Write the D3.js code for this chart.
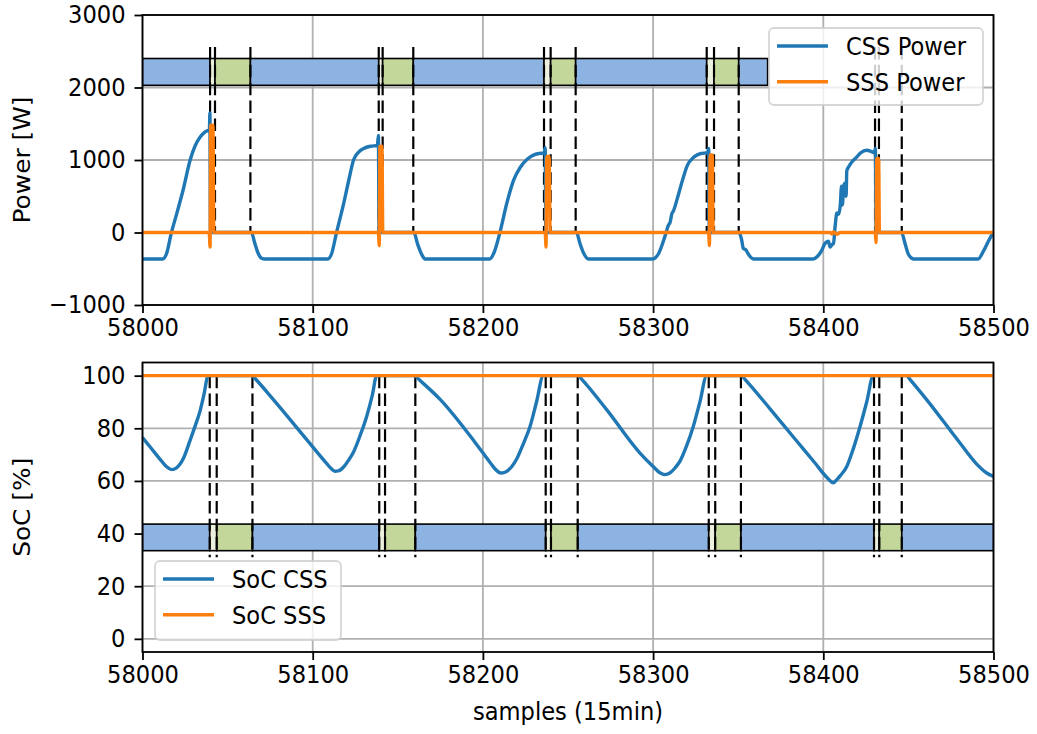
<!DOCTYPE html>
<html>
<head>
<meta charset="utf-8">
<script src="https://cdn.jsdelivr.net/npm/d3@7"></script>
<style>
  html, body { margin: 0; padding: 0; background: #ffffff; }
  svg { display: block; }
  text { font-family: "DejaVu Sans", sans-serif; fill: #000; }
</style>
</head>
<body>
<svg id="chart" width="1037" height="734"></svg>
<script>
// ---- Data (samples at 15 min resolution) ----
const sampleDomain = [58000, 58500];
const xTicks = [58000, 58100, 58200, 58300, 58400, 58500];
const powerTicks = [-1000, 0, 1000, 2000, 3000];
const socTicks = [0, 20, 40, 60, 80, 100];

// CSS power [W]
const cssPower = [
  [58000, -365], [58012, -365], [58014, -300], [58017, 0], [58020, 250], [58024, 600],
  [58028, 1000], [58031, 1200], [58034, 1320], [58037, 1390], [58039.3, 1420], [58039.6, 1650],
  [58039.9, 0], [58064, 0], [58066, -150], [58068, -290], [58070, -355], [58072, -365],
  [58109, -365], [58111, -300], [58114, 0], [58118, 380], [58121, 700], [58124, 1000],
  [58127, 1110], [58130, 1160], [58134, 1190], [58138, 1200], [58138.6, 1340], [58139, 0],
  [58159.5, 0], [58161.5, -150], [58164, -300], [58166, -365],
  [58204, -365], [58206.5, -280], [58210, 0], [58214, 400], [58218, 720], [58222, 900],
  [58226, 1010], [58230, 1070], [58233, 1090], [58236, 1095], [58236.6, 1170], [58237, 0],
  [58255, 0], [58257, -150], [58259.5, -300], [58262, -365],
  [58300, -365], [58303, -300], [58307, -50], [58309, 100], [58310, 140], [58311, 260],
  [58312, 300], [58314, 450], [58317, 700], [58320, 920], [58324, 1040], [58328, 1090],
  [58332, 1100], [58332.7, 1160], [58333, 0], [58350.5, 0], [58352, -100], [58353, -220],
  [58354.5, -240], [58356, -300], [58359, -365],
  [58394, -365], [58396.5, -330], [58399, -250], [58401, -150], [58403, -120], [58404, -200],
  [58405, -170], [58406, -150], [58407, 100], [58408, 270], [58409, 250], [58410, 380],
  [58410.7, 640], [58411.2, 380], [58412, 640], [58412.8, 680], [58413.4, 500], [58413.8, 850],
  [58415, 910], [58417, 980], [58419.6, 1040], [58422, 1100], [58425.5, 1135], [58428, 1120],
  [58430, 1100], [58430.6, 1160], [58431, 0], [58446, 0], [58448, -150], [58450, -300],
  [58453, -365], [58491, -365], [58494, -260], [58497, -120], [58500, 10]
];

// SSS power [W]
const sssPower = [
  [58000, 0], [58039.2, 0], [58039.7, -200], [58040.1, 1480], [58041.4, 1480], [58041.9, 0],
  [58138.6, 0], [58139.1, -180], [58139.5, 1190], [58140.7, 1190], [58141.2, 0],
  [58236.6, 0], [58237.1, -200], [58237.5, 1050], [58238.9, 1050], [58239.5, 0],
  [58332.6, 0], [58333.1, -180], [58333.5, 1070], [58334.8, 1070], [58335.3, 0],
  [58404, 0], [58405, -20], [58406, 10], [58408, -25], [58410, 0],
  [58430.5, 0], [58431, -140], [58431.4, 1020], [58432.5, 1020], [58433, 0], [58500, 0]
];

// State of charge [%]
const socCss = [
  [58000, 76.5], [58005, 72.5], [58010, 68.5], [58014, 65.5], [58017, 64.3], [58020, 65],
  [58024, 68.5], [58028, 75.5], [58031, 81], [58034, 87], [58036, 92.5], [58038.6, 100],
  [58064.5, 100], [58066, 99], [58076.9, 90.9], [58096.5, 75.7], [58108, 66.8], [58111, 64.6],
  [58113, 63.7], [58115, 63.8], [58118, 65.2], [58121, 67.8], [58124, 71], [58128, 77.5],
  [58131.7, 84.5], [58135, 92.5], [58137.6, 100],
  [58160, 100], [58162, 98.8], [58175, 90.9], [58195, 75], [58204, 67.2], [58208, 64],
  [58210.5, 63], [58213, 63.3], [58217, 65.5], [58220, 68.5], [58224, 74.5], [58227.7, 80.7],
  [58231.5, 90], [58235.5, 100],
  [58256.1, 100], [58258, 98.7], [58272.7, 87.1], [58292.3, 70.6], [58300, 65.5], [58304, 63.1],
  [58307, 62.4], [58310, 63.1], [58313, 65], [58315.8, 67.5], [58319.5, 73], [58323.6, 80.7],
  [58327.5, 90], [58331.5, 100],
  [58352, 100], [58354, 98.6], [58368.7, 87.4], [58382.4, 76.7], [58395, 66.9], [58402, 61.4],
  [58405.9, 59.3], [58408, 60.5], [58410, 62], [58413.8, 65.5], [58417.5, 72], [58421.6, 80.7],
  [58425.5, 90], [58429.4, 100],
  [58449, 100], [58451, 98.5], [58460.7, 90.9], [58480.3, 74.4], [58490, 66.5], [58496, 63],
  [58500, 61.7]
];
const socSss = [[58000, 100], [58500, 100]];

// Operating phases: [start, end, kind]
const powerPhases = [
  [58000, 58039.7, "idle"], [58039.7, 58042.6, "switch"], [58042.6, 58063.4, "full"],
  [58063.4, 58138.8, "idle"], [58138.8, 58141.1, "switch"], [58141.1, 58159.1, "full"],
  [58159.1, 58235.9, "idle"], [58235.9, 58239.8, "switch"], [58239.8, 58254.5, "full"],
  [58254.5, 58331.5, "idle"], [58331.5, 58335.8, "switch"], [58335.8, 58350.3, "full"],
  [58350.3, 58367.3, "idle"]
];
const powerMarkers = [58039.7, 58042.6, 58063.4, 58138.8, 58141.1, 58159.1, 58235.9, 58239.8,
  58254.5, 58331.5, 58335.8, 58350.3, 58430.4, 58432.7, 58446.1];

const socPhases = [
  [58000, 58039.5, "idle"], [58039.5, 58043.6, "switch"], [58043.6, 58064.6, "full"],
  [58064.6, 58139.1, "idle"], [58139.1, 58142.5, "switch"], [58142.5, 58160.3, "full"],
  [58160.3, 58236.9, "idle"], [58236.9, 58240.0, "switch"], [58240.0, 58255.7, "full"],
  [58255.7, 58332.7, "idle"], [58332.7, 58336.5, "switch"], [58336.5, 58351.6, "full"],
  [58351.6, 58429.8, "idle"], [58429.8, 58432.9, "switch"], [58432.9, 58446.1, "full"],
  [58446.1, 58500, "idle"]
];
const socMarkers = [58039.5, 58043.6, 58064.6, 58139.1, 58142.5, 58160.3, 58236.9, 58240.0,
  58255.7, 58332.7, 58336.5, 58351.6, 58429.8, 58432.9, 58446.1];

const powerBand = [2030, 2400];
const powerMarkerSpan = [0, 2560];
const socBand = [33.5, 43.6];
const socMarkerSpan = [31, 100];

// ---- Styling ----
const phaseColor = { idle: "#8db3e2", switch: "#ebf1de", full: "#c4d79b" };
const cssColor = "#1f77b4";
const sssColor = "#ff7f0e";
const fontSize = 22.6;
const textStretch = 1.1; // glyphs are drawn slightly taller than wide

const svg = d3.select("#chart");
const left = 142.5, right = 993.5;
const x = d3.scaleLinear().domain(sampleDomain).range([left, right]);
const yP = d3.scaleLinear().domain([-1000, 3000]).range([305, 15]);
const yS = d3.scaleLinear().domain([-5, 105]).range([652, 362.5]);

function panel(y, yTicks, yFmt, cfg) {
  const g = svg.append("g");
  const [y0, y1] = y.range(); // bottom, top
  const clipId = "clip" + cfg.id;
  svg.append("clipPath").attr("id", clipId)
    .append("rect").attr("x", left).attr("y", y1).attr("width", right - left).attr("height", y0 - y1);

  // grid
  g.append("g").selectAll("line").data(xTicks).join("line")
    .attr("x1", d => x(d)).attr("x2", d => x(d)).attr("y1", y1).attr("y2", y0)
    .attr("stroke", "#b0b0b0").attr("stroke-width", 1.8);
  g.append("g").selectAll("line").data(yTicks).join("line")
    .attr("x1", left).attr("x2", right).attr("y1", d => y(d)).attr("y2", d => y(d))
    .attr("stroke", "#b0b0b0").attr("stroke-width", 1.8);

  const plot = g.append("g").attr("clip-path", `url(#${clipId})`);

  // phase band
  plot.append("g").selectAll("rect").data(cfg.phases).join("rect")
    .attr("x", d => x(d[0])).attr("width", d => x(d[1]) - x(d[0]))
    .attr("y", y(cfg.band[1])).attr("height", y(cfg.band[0]) - y(cfg.band[1]))
    .attr("fill", d => phaseColor[d[2]])
    .attr("stroke", "#000").attr("stroke-width", 1.6);

  // phase markers
  plot.append("g").selectAll("line").data(cfg.markers).join("line")
    .attr("x1", d => x(d)).attr("x2", d => x(d))
    .attr("y1", y(cfg.markerSpan[1])).attr("y2", y(cfg.markerSpan[0]))
    .attr("stroke", "#000").attr("stroke-width", 2.2).attr("stroke-dasharray", "12.5,5.4");

  const line = d3.line().x(d => x(d[0])).y(d => y(d[1])).curve(d3.curveMonotoneX);
  cfg.series.forEach(s => {
    plot.append("path").datum(s.data).attr("d", line)
      .attr("fill", "none").attr("stroke", s.color).attr("stroke-width", 3.4)
      .attr("stroke-linejoin", "round").attr("stroke-linecap", "butt");
  });

  // axes
  const xAxis = g.append("g").attr("transform", `translate(0,${y0})`)
    .call(d3.axisBottom(x).tickValues(xTicks).tickFormat(d3.format("d")).tickSize(8).tickPadding(4));
  const yAxis = g.append("g").attr("transform", `translate(${left},0)`)
    .call(d3.axisLeft(y).tickValues(yTicks).tickFormat(yFmt).tickSize(8).tickPadding(9));
  [xAxis, yAxis].forEach(a => {
    a.select(".domain").remove();
    a.selectAll(".tick line").attr("stroke", "#000").attr("stroke-width", 1.8);
    a.selectAll(".tick text").attr("font-size", fontSize).attr("font-family", "DejaVu Sans")
      .attr("transform", `scale(1,${textStretch})`);
  });

  // frame
  g.append("rect").attr("x", left).attr("y", y1).attr("width", right - left).attr("height", y0 - y1)
    .attr("fill", "none").attr("stroke", "#000").attr("stroke-width", 1.8);

  // y label
  g.append("text")
    .attr("transform", `translate(30,${(y0 + y1) / 2}) scale(1,${textStretch}) rotate(-90)`)
    .attr("text-anchor", "middle").attr("font-size", fontSize).text(cfg.ylabel);

  // legend
  const lg = g.append("g").attr("transform", `translate(${cfg.legend.x},${cfg.legend.y})`);
  lg.append("rect").attr("width", cfg.legend.w).attr("height", cfg.legend.h).attr("rx", 5)
    .attr("fill", "#fff").attr("fill-opacity", 0.8).attr("stroke", "#cccccc").attr("stroke-opacity", 0.8)
    .attr("stroke-width", 1.8);
  cfg.series.forEach((s, i) => {
    const cy = 18 + i * 35.7;
    lg.append("line").attr("x1", 8).attr("x2", 59).attr("y1", cy).attr("y2", cy)
      .attr("stroke", s.color).attr("stroke-width", 3.4);
    lg.append("text").attr("transform", `translate(77,${cy}) scale(1,${textStretch})`)
      .attr("dy", "0.36em").attr("font-size", fontSize).text(s.name);
  });
}

const fmtPower = d => (d < 0 ? "\u2212" + Math.abs(d) : String(d));

panel(yP, powerTicks, fmtPower, {
  id: "Power",
  phases: powerPhases, markers: powerMarkers, band: powerBand, markerSpan: powerMarkerSpan,
  series: [
    { name: "CSS Power", data: cssPower, color: cssColor },
    { name: "SSS Power", data: sssPower, color: sssColor }
  ],
  ylabel: "Power [W]",
  legend: { x: 769, y: 28, w: 214, h: 77 }
});

panel(yS, socTicks, d => String(d), {
  id: "Soc",
  phases: socPhases, markers: socMarkers, band: socBand, markerSpan: socMarkerSpan,
  series: [
    { name: "SoC CSS", data: socCss, color: cssColor },
    { name: "SoC SSS", data: socSss, color: sssColor }
  ],
  ylabel: "SoC [%]",
  legend: { x: 155, y: 561, w: 186, h: 79 }
});

svg.append("text").attr("transform", `translate(${(left + right) / 2},720) scale(1,${textStretch})`)
  .attr("text-anchor", "middle").attr("font-size", fontSize).text("samples (15min)");
</script>
</body>
</html>
